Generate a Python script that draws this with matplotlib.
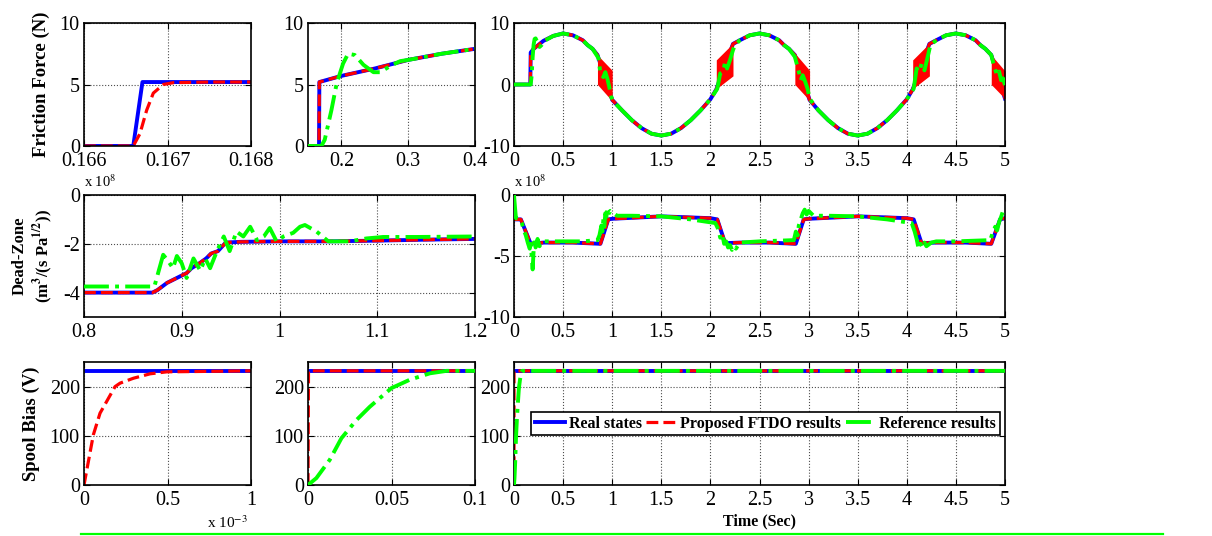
import matplotlib
matplotlib.use("Agg")
import matplotlib.pyplot as plt
from matplotlib.lines import Line2D

plt.rcParams["font.family"] = "serif"
plt.rcParams["font.serif"] = ["Liberation Serif", "DejaVu Serif"]
plt.rcParams["mathtext.fontset"] = "stix"

# ---------------- data ----------------
# friction force, zoom 1 (0.166 - 0.168 s)
f1_t_real = [0.166, 0.16659, 0.1667, 0.168]
f1_real = [0, 0, 5.2, 5.2]
f1_t_prop = [0.166, 0.16659, 0.16667, 0.16675, 0.16683, 0.16695, 0.16707, 0.1675, 0.168]
f1_prop = [0, 0, 1.0, 2.9, 4.3, 5.0, 5.15, 5.2, 5.2]

# friction force, zoom 2 (0.15 - 0.4 s)
f2_t_real = [0.15, 0.1665, 0.167, 0.2, 0.25, 0.3, 0.35, 0.4]
f2_real = [0, 0, 5.2, 5.7, 6.3, 7.0, 7.5, 7.9]
f2_t_ref = [0.15, 0.17, 0.175, 0.185, 0.193, 0.2025, 0.21, 0.22, 0.233, 0.248,
            0.258, 0.273, 0.288, 0.3, 0.35, 0.4]
f2_ref = [0, 0, 0.5, 2.9, 5.1, 6.7, 7.5, 7.4, 6.6, 6.0,
          6.0, 6.5, 6.9, 7.0, 7.5, 7.9]

# friction force, full run (0 - 5 s)
fr_t = [0, 0.166, 0.17, 0.2, 0.3, 0.4, 0.5, 0.6, 0.7, 0.75, 0.8, 0.85,
        1.0, 1.1, 1.2, 1.3, 1.4, 1.5, 1.6, 1.7, 1.8, 1.9, 2.0, 2.06,
        2.23, 2.3, 2.4, 2.5, 2.6, 2.7, 2.75, 2.8, 2.86,
        3.01, 3.1, 3.2, 3.3, 3.4, 3.5, 3.6, 3.7, 3.8, 3.9, 4.0, 4.06,
        4.23, 4.3, 4.4, 4.5, 4.6, 4.7, 4.75, 4.8, 4.86,
        5.0]
fr_real = [0, 0, 5.2, 5.8, 7.1, 7.9, 8.3, 8.0, 7.2, 6.4, 5.8, 4.8,
           -2.5, -4.2, -5.8, -7.1, -8.0, -8.3, -8.0, -7.1, -5.8, -4.2, -2.4, -0.8,
           6.6, 7.2, 8.0, 8.3, 8.0, 7.2, 6.4, 5.8, 4.8,
           -2.5, -4.2, -5.8, -7.1, -8.0, -8.3, -8.0, -7.1, -5.8, -4.2, -2.4, -0.8,
           6.6, 7.2, 8.0, 8.3, 8.0, 7.2, 6.4, 5.8, 4.8,
           -2.3]
fr_prop = fr_real
# chattering bands of the proposed observer (start/end time, lower and upper edge)
band_t = [(0.85, 1.0), (2.06, 2.23), (2.86, 3.01), (4.06, 4.23), (4.86, 5.0)]
band_lo = [(0.0, -2.7), (-0.7, 1.4), (0.0, -2.6), (-0.7, 1.4), (0.0, -2.3)]
band_hi = [(4.8, 2.3), (4.0, 6.7), (5.1, 2.3), (4.0, 6.7), (4.8, 2.2)]

fr_t_ref = [0, 0.17, 0.18, 0.19, 0.2, 0.21, 0.22, 0.24, 0.26, 0.28, 0.3, 0.4, 0.5, 0.6, 0.7, 0.75, 0.8,
            0.86, 0.88, 0.91, 0.93, 0.95, 0.97, 0.99, 1.01,
            1.1, 1.2, 1.3, 1.4, 1.5, 1.6, 1.7, 1.8, 1.9, 2.0,
            2.07, 2.10, 2.13, 2.15, 2.17, 2.20, 2.23, 2.25,
            2.3, 2.4, 2.5, 2.6, 2.7, 2.75, 2.8,
            2.86, 2.9, 2.92, 2.94, 2.96, 2.99, 3.01,
            3.1, 3.2, 3.3, 3.4, 3.5, 3.6, 3.7, 3.8, 3.9, 4.0,
            4.07, 4.1, 4.13, 4.15, 4.18, 4.21, 4.24,
            4.3, 4.4, 4.5, 4.6, 4.7, 4.75, 4.8,
            4.86, 4.89, 4.92, 4.94, 4.96, 4.98, 5.0]
fr_ref = [0, 0, 1.5, 4.5, 6.5, 7.4, 7.5, 6.8, 6.1, 6.4, 7.0, 7.9, 8.3, 8.0, 7.2, 6.4, 5.8,
          4.3, 1.8, 1.2, 2.0, 1.0, -0.4, -2.0, -2.7,
          -4.2, -5.8, -7.1, -8.0, -8.3, -8.0, -7.1, -5.8, -4.2, -2.4,
          -0.7, 1.8, 2.1, 3.7, 2.6, 4.0, 5.6, 6.4,
          7.2, 8.0, 8.3, 8.0, 7.2, 6.4, 5.8,
          4.5, 2.1, 0.7, 1.5, 0.7, -0.7, -2.3,
          -4.2, -5.8, -7.1, -8.0, -8.3, -8.0, -7.1, -5.8, -4.2, -2.4,
          -0.7, 2.6, 2.1, 3.4, 2.3, 4.3, 6.4,
          7.2, 8.0, 8.3, 8.0, 7.2, 6.4, 5.8,
          4.8, 2.9, 1.5, 2.1, 0.7, 1.0, -0.1]

# dead-zone (x 1e8), zoom (0.8 - 1.2 s)
dz1_t = [0.8, 0.87, 0.875, 0.885, 0.89, 0.9, 0.905, 0.91, 0.918, 0.925, 0.93, 0.937, 0.945,
         0.96, 1.0, 1.05, 1.1, 1.15, 1.2]
dz1_real = [-4.0, -4.0, -3.9, -3.6, -3.5, -3.3, -3.2, -3.0, -2.8, -2.6, -2.4, -2.3, -1.95,
            -1.92, -1.9, -1.9, -1.87, -1.83, -1.8]
dz1_t_ref = [0.8, 0.872, 0.881, 0.886, 0.891, 0.895, 0.9, 0.905, 0.912, 0.919,
             0.924, 0.929, 0.936, 0.943, 0.949, 0.956, 0.963, 0.97, 0.977, 0.984,
             0.99, 0.997, 1.004, 1.014, 1.021, 1.026, 1.038, 1.05, 1.072, 1.089,
             1.106, 1.14, 1.2]
dz1_ref = [-3.75, -3.75, -2.45, -2.7, -3.0, -2.5, -2.8, -3.4, -2.6, -3.1,
           -2.6, -3.0, -2.3, -1.7, -2.3, -1.5, -1.7, -1.3, -1.85, -1.7,
           -1.35, -1.9, -1.7, -1.55, -1.3, -1.23, -1.5, -1.9, -1.9, -1.78,
           -1.72, -1.72, -1.7]

# dead-zone (x 1e8), full run
dz_t = [0, 0.07, 0.17, 0.3, 0.6, 0.88, 0.96, 1.0, 1.5, 2.0,
        2.07, 2.15, 2.3, 2.6, 2.87, 2.95, 3.0, 3.5, 4.0, 4.07,
        4.15, 4.3, 4.6, 4.86, 4.95, 5.0]
dz_real = [-2.0, -2.0, -4.0, -3.9, -3.9, -4.0, -2.0, -1.95, -1.75, -1.9,
           -2.0, -3.95, -3.9, -3.9, -4.0, -2.0, -1.95, -1.75, -1.9, -2.0,
           -3.95, -3.9, -3.9, -4.0, -2.0, -1.9]
dz_t_ref = [0, 0.01, 0.02, 0.06, 0.08, 0.1, 0.12, 0.14, 0.16, 0.17, 0.18, 0.19, 0.2, 0.21, 0.22,
            0.24, 0.26, 0.28, 0.3, 0.5, 0.7, 0.85,
            0.87, 0.89, 0.9, 0.91, 0.92, 0.93, 0.94, 0.95, 0.96, 0.98, 1.0, 1.05, 1.2, 1.5, 1.8, 2.05,
            2.08, 2.1, 2.12, 2.14, 2.16, 2.18, 2.2, 2.22, 2.24, 2.26, 2.3, 2.5, 2.85,
            2.87, 2.89, 2.9, 2.92, 2.94, 2.96, 2.98, 3.0, 3.05, 3.2, 3.5, 3.8, 4.05,
            4.08, 4.1, 4.12, 4.14, 4.16, 4.18, 4.2, 4.25, 4.3, 4.5, 4.85,
            4.87, 4.9, 4.92, 4.94, 4.96, 4.98, 5.0]
dz_ref = [0, -1.0, -1.9, -2.0, -2.3, -2.9, -3.3, -3.9, -4.4, -4.0, -5.0, -6.1, -4.5, -3.5, -4.3,
          -3.6, -4.2, -3.9, -3.8, -3.8, -3.8, -3.7,
          -3.3, -2.5, -3.0, -2.0, -2.6, -1.5, -1.8, -1.2, -1.6, -1.3, -1.4, -1.7, -1.7, -1.75, -2.0, -2.3,
          -2.8, -3.5, -3.2, -4.0, -3.8, -4.3, -4.1, -4.5, -4.2, -4.4, -3.9, -3.8, -3.7,
          -3.0, -3.3, -2.5, -2.0, -1.5, -1.2, -1.6, -1.3, -1.7, -1.7, -1.75, -2.0, -2.3,
          -3.0, -3.6, -4.4, -4.0, -4.3, -3.9, -4.2, -3.9, -3.8, -3.8, -3.7,
          -3.2, -2.6, -2.9, -2.2, -1.8, -1.3, -1.5]

# spool bias (V)
sb1_t_real = [0, 1.0]          # x 1e-3 s
sb1_real = [232, 232]
sb1_t_prop = [0, 0.056, 0.096, 0.186, 0.216, 0.296, 0.396, 0.496, 1.0]
sb1_prop = [0, 102, 146, 200, 207, 217, 226, 230, 232]

sb2_t_real = [0, 0.1]
sb2_real = [232, 232]
sb2_t_prop = [0, 0.0003, 0.1]
sb2_prop = [0, 232, 232]
sb2_t_ref = [0, 0.005, 0.013, 0.02, 0.029, 0.037, 0.05, 0.061, 0.073, 0.083, 0.1]
sb2_ref = [0, 14, 51, 95, 132, 159, 197, 214, 227, 232, 232]

sb_t_real = [0, 5]
sb_real = [232, 232]
sb_t_prop = [0, 0.0003, 5]
sb_prop = [0, 232, 232]
sb_t_ref = [0, 0.005, 0.013, 0.02, 0.029, 0.037, 0.05, 0.061, 0.073, 0.083, 5]
sb_ref = [0, 14, 51, 95, 132, 159, 197, 214, 227, 232, 232]

t_full_ticks = [0, 0.5, 1, 1.5, 2, 2.5, 3, 3.5, 4, 4.5, 5]

# ---------------- figure ----------------
W, H = 1212, 536
fig = plt.figure(figsize=(W / 100, H / 100), dpi=100)


def make_ax(x0, x1, y0, y1):
    return fig.add_axes([x0 / W, 1 - y1 / H, (x1 - x0) / W, (y1 - y0) / H])


def style(ax, xlim, ylim, xticks, yticks):
    ax.set_xlim(xlim)
    ax.set_ylim(ylim)
    ax.set_xticks(xticks)
    ax.set_xticklabels(["%g" % v for v in xticks])
    ax.set_yticks(yticks)
    ax.set_yticklabels(["%g" % v for v in yticks])
    ax.set_axisbelow(True)
    ax.grid(True, color="0.3", ls=":", lw=0.8)
    ax.tick_params(direction="in", top=True, right=True, length=4, width=0.8,
                   labelsize=14.5)
    ax.tick_params(axis="x", pad=4.5)
    ax.tick_params(axis="y", pad=3)
    for s in ax.spines.values():
        s.set_linewidth(1.2)


def real(ax, t, v):
    return ax.plot(t, v, color="#0000ff", lw=2.8, zorder=2, label="Real states")[0]


def prop(ax, t, v):
    return ax.plot(t, v, color="#ff0000", lw=2.3, ls="--", zorder=2.4,
                   label="Proposed FTDO results")[0]


def ref(ax, t, v):
    return ax.plot(t, v, color="#00ff00", lw=2.8, ls="-.", zorder=2.6,
                   label="Reference results")[0]


# row 1: friction
ax1 = make_ax(84, 251, 23, 146)
real(ax1, f1_t_real, f1_real)
prop(ax1, f1_t_prop, f1_prop)
style(ax1, (0.166, 0.168), (0, 10), [0.166, 0.167, 0.168], [0, 5, 10])
ax1.set_ylabel("Friction Force (N)", fontweight="bold", fontsize=13.5)
ax1.yaxis.set_label_coords(-0.204, 0.5)

ax2 = make_ax(308, 475, 23, 146)
real(ax2, f2_t_real, f2_real)
prop(ax2, f2_t_real, f2_real)
ref(ax2, f2_t_ref, f2_ref)
style(ax2, (0.15, 0.4), (0, 10), [0.2, 0.3, 0.4], [0, 5, 10])

ax3 = make_ax(514, 1005, 23, 146)
real(ax3, fr_t, fr_real)
for (ta, tb), (la, lb), (ha, hb) in zip(band_t, band_lo, band_hi):
    ax3.fill_between([ta, tb], [la, lb], [ha, hb], color="#ff0000", lw=0, zorder=2.2)
prop(ax3, fr_t, fr_prop)
ref(ax3, fr_t_ref, fr_ref)
style(ax3, (0, 5), (-10, 10), t_full_ticks, [-10, 0, 10])

# row 2: dead-zone
ax4 = make_ax(84, 475, 195, 317)
real(ax4, dz1_t, dz1_real)
prop(ax4, dz1_t, dz1_real)
ref(ax4, dz1_t_ref, dz1_ref)
style(ax4, (0.8, 1.2), (-5, 0), [0.8, 0.9, 1.0, 1.1, 1.2], [-4, -2, 0])
ax4.set_ylabel("Dead-Zone\n(m$^{\\mathbf{3}}$/(s Pa$^{\\mathbf{1/2}}$))",
               fontweight="bold", fontsize=12)
ax4.yaxis.set_label_coords(-0.074, 0.5)
ax4.text(0, 1.04, "x 10$^{8}$", transform=ax4.transAxes, ha="left", va="bottom",
         fontsize=10.5)

ax5 = make_ax(514, 1005, 195, 317)
real(ax5, dz_t, dz_real)
prop(ax5, dz_t, dz_real)
ref(ax5, dz_t_ref, dz_ref)
style(ax5, (0, 5), (-10, 0), t_full_ticks, [-10, -5, 0])
ax5.text(0, 1.04, "x 10$^{8}$", transform=ax5.transAxes, ha="left", va="bottom",
         fontsize=10.5)

# row 3: spool bias
ax6 = make_ax(84, 251, 362, 485)
real(ax6, sb1_t_real, sb1_real)
prop(ax6, sb1_t_prop, sb1_prop)
style(ax6, (0, 1), (0, 250), [0, 0.5, 1], [0, 100, 200])
ax6.set_ylabel("Spool Bias (V)", fontweight="bold", fontsize=13.5)
ax6.yaxis.set_label_coords(-0.263, 0.5)
ax6.text(0.98, -0.24, "x 10$^{-3}$", transform=ax6.transAxes, ha="right", va="top",
         fontsize=11)

ax7 = make_ax(308, 475, 362, 485)
real(ax7, sb2_t_real, sb2_real)
prop(ax7, sb2_t_prop, sb2_prop)
ref(ax7, sb2_t_ref, sb2_ref)
style(ax7, (0, 0.1), (0, 250), [0, 0.05, 0.1], [0, 100, 200])

ax8 = make_ax(514, 1005, 362, 485)
h1 = real(ax8, sb_t_real, sb_real)
h2 = prop(ax8, sb_t_prop, sb_prop)
h3 = ref(ax8, sb_t_ref, sb_ref)
style(ax8, (0, 5), (0, 250), t_full_ticks, [0, 100, 200])
ax8.set_xlabel("Time (Sec)", fontweight="bold", fontsize=11.5)
ax8.xaxis.set_label_coords(0.5, -0.23)
leg = ax8.legend(handles=[h1, h2, h3], loc="center", bbox_to_anchor=(0.512, 0.5), ncol=3,
                 prop={"weight": "bold", "size": 11.5}, fancybox=False, edgecolor="k",
                 framealpha=1, handlelength=1.9, handletextpad=0.2, columnspacing=0.3,
                 borderpad=0.25, borderaxespad=0)
leg.get_frame().set_linewidth(1.2)

# green rule under the figure
fig.add_artist(Line2D([81 / W, 1163 / W], [1 - 534 / H, 1 - 534 / H],
                      transform=fig.transFigure, color="#00ff00", lw=1.6))

fig.savefig("out.png", dpi=100)
